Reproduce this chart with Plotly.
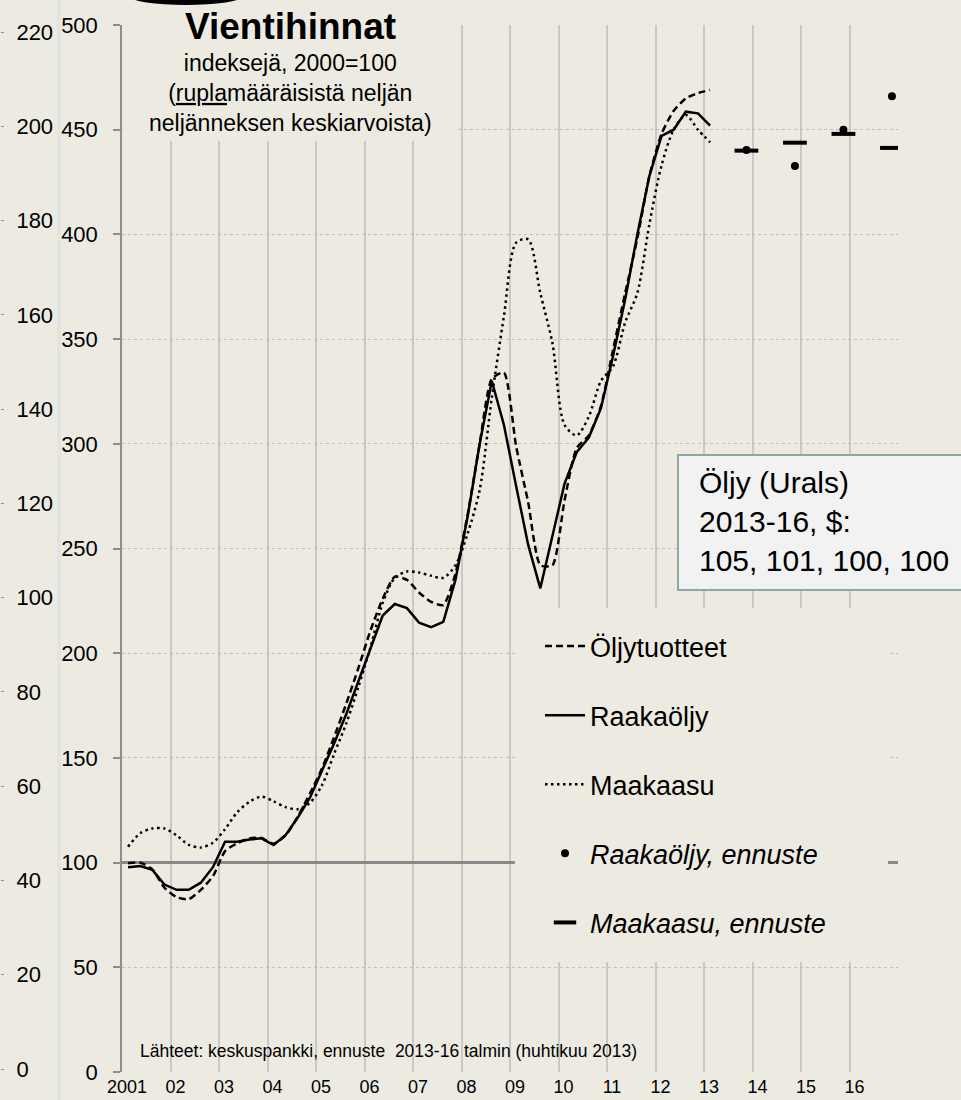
import plotly.graph_objects as go

# ---------------- data ----------------
quarters = [f"{y}Q{q}" for y in range(2001, 2014) for q in range(1, 5)][:49]

oljytuotteet = [99.7, 100, 96.8, 88, 83.5, 82.5, 87, 93.5, 105.5, 109.2, 111.5, 111.8,
                109, 113, 122, 133, 145, 160, 176, 193, 211, 226, 236.5, 235,
                229, 224.5, 223, 238, 266, 300, 331, 334, 299, 272, 242, 242,
                273, 298, 304, 318, 345, 372, 398, 428, 448, 459, 465, 467.5, 469]
raakaoljy = [97.8, 98.4, 96.5, 89.5, 87, 87, 90.4, 97.8, 110, 110, 111, 111.6,
             108.4, 113.2, 121.5, 131, 144, 157, 171, 187, 202, 218, 223.5, 221.5,
             214.6, 212.4, 215, 235, 265, 300, 330, 309, 280, 251.7, 231, 256,
             281, 296, 303, 317, 342, 369, 400, 428, 447, 450, 458.6, 457.8, 452]
maakaasu = [107.6, 114, 116.3, 116.3, 113, 108.5, 107.2, 109.5, 116, 124, 129, 131.5,
            129.3, 126.5, 125.5, 128.5, 137, 152, 166.5, 184, 203, 224, 236, 239,
            238.5, 237, 236, 242, 257, 278, 322, 361, 396, 397.6, 372, 348,
            309, 304, 313, 330, 337, 358, 372, 405, 433, 450, 457, 450, 444]

forecast_years = [2013, 2014, 2015, 2016]
raakaoljy_ennuste = [440.3, 432.7, 450, 466]
maakaasu_ennuste = [440, 443.8, 448, 441.3]

year_ticks = list(range(2001, 2017))
year_labels = ["2001"] + [f"{y % 100:02d}" for y in range(2002, 2017)]
left_ticks = list(range(0, 501, 50))
outer_ticks = list(range(0, 221, 20))

# quarterly positions (middle of quarter), annual forecast at Q4
xq = [int(q[:4]) + (int(q[-1]) - 1) * 0.25 + 0.125 for q in quarters]
xf = [y + 0.875 for y in forecast_years]

# ---------------- style ----------------
W, H = 961, 1100
BG = "#EDEBE1"
FONT = "Liberation Sans, Arial, sans-serif"
GRID = "#C8C8C8"
AX = "#8E8E8E"


def px(x):
    return x / W


def py(y):
    return 1 - y / H


fig = go.Figure()
fig.add_trace(go.Scatter(x=xq, y=oljytuotteet, name="Öljytuotteet", mode="lines",
                         legendgroup="a",
                         line=dict(color="black", width=2.5, dash="7px,4px",
                                   shape="spline", smoothing=0.6)))
fig.add_trace(go.Scatter(x=xq, y=raakaoljy, name="Raakaöljy", mode="lines",
                         legendgroup="b",
                         line=dict(color="black", width=2.5)))
fig.add_trace(go.Scatter(x=xq, y=maakaasu, name="Maakaasu", mode="lines",
                         legendgroup="c",
                         line=dict(color="black", width=2.5, dash="2.5px,3.5px",
                                   shape="spline", smoothing=0.8)))
fig.add_trace(go.Scatter(x=xf, y=raakaoljy_ennuste, name="<i>Raakaöljy, ennuste</i>",
                         mode="markers", legendgroup="d",
                         marker=dict(symbol="circle", size=8, color="black")))
fig.add_trace(go.Scatter(x=xf, y=maakaasu_ennuste, name="<i>Maakaasu, ennuste</i>",
                         mode="markers", legendgroup="e",
                         marker=dict(symbol="line-ew", size=17, color="black",
                                     line=dict(width=4, color="black"))))

x_dom = [px(122), px(898)]
y_dom = [py(1072), py(25)]

fig.update_layout(
    width=W, height=H,
    margin=dict(l=0, r=0, t=0, b=0, autoexpand=False),
    paper_bgcolor=BG, plot_bgcolor=BG,
    font=dict(family=FONT, color="black", size=22),
    xaxis=dict(domain=x_dom, range=[2001, 2017], tickvals=year_ticks, ticktext=year_labels,
               showgrid=True, gridcolor=GRID, gridwidth=1.5, zeroline=False,
               showline=False, ticks="", tickfont=dict(size=18),
               ticklabelshift=5, ticklabelstandoff=2, automargin=False),
    yaxis=dict(domain=y_dom, range=[0, 500], tickvals=left_ticks, showgrid=True,
               gridcolor="#BDBDBD", griddash="dot", gridwidth=1, zeroline=False,
               showline=True, linecolor=AX, linewidth=1.5, ticks="outside",
               ticklen=7, tickcolor=AX, tickwidth=1.5, ticklabelstandoff=11,
               automargin=False, anchor="x"),
    yaxis2=dict(domain=y_dom, range=[0, 500], tickvals=left_ticks, overlaying="y",
                side="right", anchor="x", showgrid=False, zeroline=False,
                showline=True, linecolor=AX, linewidth=1.5, ticks="outside",
                ticklen=7, tickcolor=AX, tickwidth=1.5, ticklabelstandoff=10,
                automargin=False),
    yaxis3=dict(domain=y_dom, range=[-0.636, 221.485], tickvals=outer_ticks,
                overlaying="y", side="right", anchor="free", position=0,
                showgrid=False, zeroline=False, showline=False, ticks="outside",
                ticklen=3, tickcolor=AX, ticklabelstandoff=8, automargin=False),
    showlegend=True,
    legend=dict(x=px(540), y=py(622), xanchor="left", yanchor="top",
                bgcolor="rgba(0,0,0,0)", font=dict(size=27, family=FONT),
                itemwidth=40, tracegroupgap=31, traceorder="grouped"),
)

# invisible trace to keep the outer axis drawn
fig.add_trace(go.Scatter(x=[None], y=[None], yaxis="y3", showlegend=False,
                         hoverinfo="skip"))

shapes = [
    # light vertical strip at far left
    dict(type="line", xref="paper", yref="paper", x0=px(59), x1=px(59), y0=0, y1=1,
         line=dict(color="#E1E4E4", width=4), layer="below"),
    # 100-level reference line
    dict(type="line", xref="x", yref="y", x0=2001, x1=2017, y0=100, y1=100,
         line=dict(color="#8A8A8A", width=3), layer="between"),
    # title backdrop
    dict(type="rect", xref="paper", yref="paper", x0=px(123), x1=px(457),
         y0=py(141), y1=py(20), fillcolor=BG, line=dict(width=0), layer="above"),
    # legend backdrop
    dict(type="rect", xref="paper", yref="paper", x0=px(515), x1=px(888),
         y0=py(962), y1=py(608), fillcolor=BG, line=dict(width=0), layer="above"),
    # Urals box
    dict(type="rect", xref="paper", yref="paper", x0=px(678), x1=px(975),
         y0=py(590), y1=py(455), fillcolor="#F2F2F2",
         line=dict(color="#8DA7A7", width=2), layer="above"),
    # dark oval at top
    dict(type="circle", xref="paper", yref="paper", x0=px(130), x1=px(242),
         y0=py(5), y1=py(-12), fillcolor="black", line=dict(width=0), layer="above"),
]
fig.update_layout(shapes=shapes)

annotations = [
    dict(text="<b>Vientihinnat</b>", x=px(290), y=py(26), xref="paper", yref="paper",
         showarrow=False, xanchor="center", yanchor="middle",
         font=dict(size=37, family=FONT)),
    dict(text="indeksejä, 2000=100<br>(<u>rupla</u>määräisistä neljän<br>neljänneksen keskiarvoista)",
         x=px(290), y=py(93.5), xref="paper", yref="paper", showarrow=False,
         xanchor="center", yanchor="middle", align="center",
         font=dict(size=23, family=FONT)),
    dict(text="Öljy (Urals)<br>2013-16, $:<br>105, 101, 100, 100",
         x=px(697), y=py(521), xref="paper", yref="paper", showarrow=False,
         xanchor="left", yanchor="middle", align="left",
         font=dict(size=30, family=FONT)),
    dict(text="Lähteet: keskuspankki, ennuste  2013-16 talmin (huhtikuu 2013)",
         x=px(138), y=py(1051), xref="paper", yref="paper", showarrow=False,
         xanchor="left", yanchor="middle", font=dict(size=17.5, family=FONT)),
]
fig.update_layout(annotations=annotations)

fig.write_html("out.html", config={"displayModeBar": False},
               post_script="document.body.style.margin='0';document.body.style.overflow='hidden';")
